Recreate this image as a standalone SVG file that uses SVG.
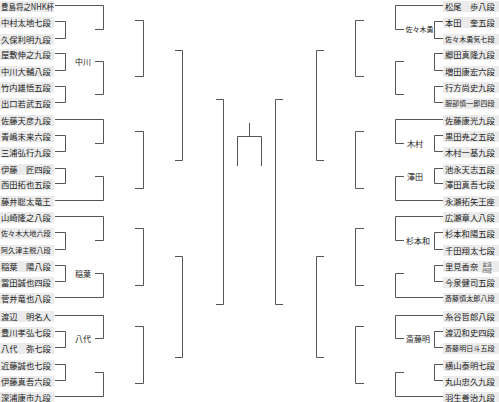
<svg xmlns="http://www.w3.org/2000/svg" width="499" height="402" viewBox="0 0 499 402">
<style>
.b{fill:#ebebeb}
text{font-family:"Noto Sans CJK JP","Noto Sans CJK SC",sans-serif;font-size:8.3px;fill:#222}
.s{font-size:7.1px}
.m{font-size:4.6px}
.lb{font-size:8px}
.ls{font-size:7px}
#conn path{fill:none;stroke:#555;stroke-width:1}
</style>
<rect width="499" height="402" fill="#fff"/>
<g id="conn">
<path d="M55 21.5H65.5V38.5H55M55 53.5H65.5V70.5H55M55 86.5H65.5V102.5H55M55 135.5H65.5V151.5H55M55 168.5H65.5V183.5H55M55 232.5H65.5V249.5H55M55 265.5H65.5V281.5H55M55 331.5H65.5V347.5H55M55 364.5H65.5V380.5H55"/>
<path d="M55 5.5H103.5V29.5H95M95 61.5H103.5V94.5H95M55 119.5H103.5V143.5H95M95 176.5H103.5V200.5H55M55 216.5H103.5V240.5H95M95 273.5H103.5V297.5H55M55 315.5H103.5V338.5H95M95 372.5H103.5V396.5H55"/>
<path d="M135 20.5H143.5V76.5H135M135 131.5H143.5V188.5H135M135 228.5H143.5V285.5H135M135 326.5H143.5V383.5H135"/>
<path d="M175 50.5H182.5V160.5H175M175 256.5H182.5V357.5H175"/>
<path d="M216 99.5H223.5V304.5H216"/>
<path d="M249.5 123V136.5M237.5 166V136.5H261.5V166"/>
<path d="M283 99.5H275.5V304.5H283"/>
<path d="M324 50.5H316.5V160.5H324M324 256.5H316.5V357.5H324"/>
<path d="M364 20.5H355.5V76.5H364M364 131.5H355.5V188.5H364M364 228.5H355.5V285.5H364M364 326.5H355.5V383.5H364"/>
<path d="M443 5.5H395.5V29.5H404M404 61.5H395.5V94.5H404M443 119.5H395.5V143.5H404M404 176.5H395.5V200.5H443M443 216.5H395.5V240.5H404M404 273.5H395.5V297.5H443M443 315.5H395.5V338.5H404M404 372.5H395.5V396.5H443"/>
<path d="M443 21.5H434.5V38.5H443M443 53.5H434.5V70.5H443M443 86.5H434.5V102.5H443M443 135.5H434.5V151.5H443M443 168.5H434.5V183.5H443M443 232.5H434.5V249.5H443M443 265.5H434.5V281.5H443M443 331.5H434.5V347.5H443M443 364.5H434.5V380.5H443"/>
</g>
<g id="left">
<g id="L00"><rect class="b" x="0" y="1" width="54" height="11"/><text x="1" y="9.5" textLength="53" lengthAdjust="spacingAndGlyphs">豊島将之NHK杯</text></g>
<g id="L01"><rect class="b" x="0" y="17" width="54" height="11"/><text x="1" y="25.5">中村太地七段</text></g>
<g id="L02"><rect class="b" x="0" y="34" width="54" height="11"/><text x="1" y="42.5">久保利明九段</text></g>
<g id="L03"><rect class="b" x="0" y="49" width="54" height="11"/><text x="1" y="57.5">屋敷伸之九段</text></g>
<g id="L04"><rect class="b" x="0" y="66" width="54" height="11"/><text x="1" y="74.5">中川大輔八段</text></g>
<g id="L05"><rect class="b" x="0" y="82" width="54" height="11"/><text x="1" y="90.5">竹内雄悟五段</text></g>
<g id="L06"><rect class="b" x="0" y="98" width="54" height="11"/><text x="1" y="106.5">出口若武五段</text></g>
<g id="L07"><rect class="b" x="0" y="115" width="54" height="11"/><text x="1" y="123.5">佐藤天彦九段</text></g>
<g id="L08"><rect class="b" x="0" y="131" width="54" height="11"/><text x="1" y="139.5">青嶋未来六段</text></g>
<g id="L09"><rect class="b" x="0" y="147" width="54" height="11"/><text x="1" y="155.5">三浦弘行九段</text></g>
<g id="L10"><rect class="b" x="0" y="164" width="54" height="11"/><text x="1" y="172.5">伊藤　匠四段</text></g>
<g id="L11"><rect class="b" x="0" y="179" width="54" height="11"/><text x="1" y="187.5">西田拓也五段</text></g>
<g id="L12"><rect class="b" x="0" y="196" width="54" height="11"/><text x="1" y="204.5">藤井聡太竜王</text></g>
<g id="L13"><rect class="b" x="0" y="212" width="54" height="11"/><text x="1" y="220.5">山崎隆之八段</text></g>
<g id="L14"><rect class="b" x="0" y="228" width="54" height="11"/><text class="s" x="1" y="236">佐々木大地六段</text></g>
<g id="L15"><rect class="b" x="0" y="245" width="54" height="11"/><text class="s" x="1" y="253">阿久津主税八段</text></g>
<g id="L16"><rect class="b" x="0" y="261" width="54" height="11"/><text x="1" y="269.5">稲葉　陽八段</text></g>
<g id="L17"><rect class="b" x="0" y="277" width="54" height="11"/><text x="1" y="285.5">冨田誠也四段</text></g>
<g id="L18"><rect class="b" x="0" y="293" width="54" height="11"/><text x="1" y="301.5">菅井竜也八段</text></g>
<g id="L19"><rect class="b" x="0" y="311" width="54" height="11"/><text x="1" y="319.5">渡辺　明名人</text></g>
<g id="L20"><rect class="b" x="0" y="327" width="54" height="11"/><text x="1" y="335.5">豊川孝弘七段</text></g>
<g id="L21"><rect class="b" x="0" y="343" width="54" height="11"/><text x="1" y="351.5">八代　弥七段</text></g>
<g id="L22"><rect class="b" x="0" y="360" width="54" height="11"/><text x="1" y="368.5">近藤誠也七段</text></g>
<g id="L23"><rect class="b" x="0" y="376" width="54" height="11"/><text x="1" y="384.5">伊藤真吾六段</text></g>
<g id="L24"><rect class="b" x="0" y="392" width="54" height="11"/><text x="1" y="400.5">深浦康市九段</text></g>
</g>
<g id="right">
<g id="R00"><rect class="b" x="443" y="1" width="56" height="11"/><text x="445" y="9.5">松尾　歩八段</text></g>
<g id="R01"><rect class="b" x="443" y="17" width="56" height="11"/><text x="445" y="25.5">本田　奎五段</text></g>
<g id="R02"><rect class="b" x="443" y="34" width="56" height="11"/><text class="s" x="445" y="42">佐々木勇気七段</text></g>
<g id="R03"><rect class="b" x="443" y="49" width="56" height="11"/><text x="445" y="57.5">郷田真隆九段</text></g>
<g id="R04"><rect class="b" x="443" y="66" width="56" height="11"/><text x="445" y="74.5">増田康宏六段</text></g>
<g id="R05"><rect class="b" x="443" y="82" width="56" height="11"/><text x="445" y="90.5">行方尚史九段</text></g>
<g id="R06"><rect class="b" x="443" y="98" width="56" height="11"/><text class="s" x="445" y="106">服部慎一郎四段</text></g>
<g id="R07"><rect class="b" x="443" y="115" width="56" height="11"/><text x="445" y="123.5">佐藤康光九段</text></g>
<g id="R08"><rect class="b" x="443" y="131" width="56" height="11"/><text x="445" y="139.5">黒田尭之五段</text></g>
<g id="R09"><rect class="b" x="443" y="147" width="56" height="11"/><text x="445" y="155.5">木村一基九段</text></g>
<g id="R10"><rect class="b" x="443" y="164" width="56" height="11"/><text x="445" y="172.5">池永天志五段</text></g>
<g id="R11"><rect class="b" x="443" y="179" width="56" height="11"/><text x="445" y="187.5">澤田真吾七段</text></g>
<g id="R12"><rect class="b" x="443" y="196" width="56" height="11"/><text x="445" y="204.5">永瀬拓矢王座</text></g>
<g id="R13"><rect class="b" x="443" y="212" width="56" height="11"/><text x="445" y="220.5">広瀬章人八段</text></g>
<g id="R14"><rect class="b" x="443" y="228" width="56" height="11"/><text x="445" y="236.5">杉本和陽五段</text></g>
<g id="R15"><rect class="b" x="443" y="245" width="56" height="11"/><text x="445" y="253.5">千田翔太七段</text></g>
<g id="R16"><rect class="b" x="443" y="261" width="56" height="11"/><text x="445" y="269.5">里見香奈</text><text class="m" x="482.5" y="265.5">女流</text><text class="m" x="482.5" y="272.2">四冠</text></g>
<g id="R17"><rect class="b" x="443" y="277" width="56" height="11"/><text x="445" y="285.5">今泉健司五段</text></g>
<g id="R18"><rect class="b" x="443" y="293" width="56" height="11"/><text class="s" x="445" y="301">斎藤慎太郎八段</text></g>
<g id="R19"><rect class="b" x="443" y="311" width="56" height="11"/><text x="445" y="319.5">糸谷哲郎八段</text></g>
<g id="R20"><rect class="b" x="443" y="327" width="56" height="11"/><text x="445" y="335.5">渡辺和史四段</text></g>
<g id="R21"><rect class="b" x="443" y="343" width="56" height="11"/><text class="s" x="445" y="351">斎藤明日斗五段</text></g>
<g id="R22"><rect class="b" x="443" y="360" width="56" height="11"/><text x="445" y="368.5">横山泰明七段</text></g>
<g id="R23"><rect class="b" x="443" y="376" width="56" height="11"/><text x="445" y="384.5">丸山忠久九段</text></g>
<g id="R24"><rect class="b" x="443" y="392" width="56" height="11"/><text x="445" y="400.5">羽生善治九段</text></g>
</g>
<g id="winners">
<g id="W-nakagawa"><text class="lb" x="75" y="65">中川</text></g>
<g id="W-inaba"><text class="lb" x="75" y="277">稲葉</text></g>
<g id="W-yashiro"><text class="lb" x="75" y="342">八代</text></g>
<g id="W-sasakiyu"><text class="ls" x="405.5" y="32">佐々木勇</text></g>
<g id="W-kimura"><text class="lb" x="407" y="147">木村</text></g>
<g id="W-sawada"><text class="lb" x="407" y="180">澤田</text></g>
<g id="W-sugimoto"><text class="lb" x="406" y="244">杉本和</text></g>
<g id="W-saitoa"><text class="lb" x="406" y="342">斎藤明</text></g>
</g>
</svg>
